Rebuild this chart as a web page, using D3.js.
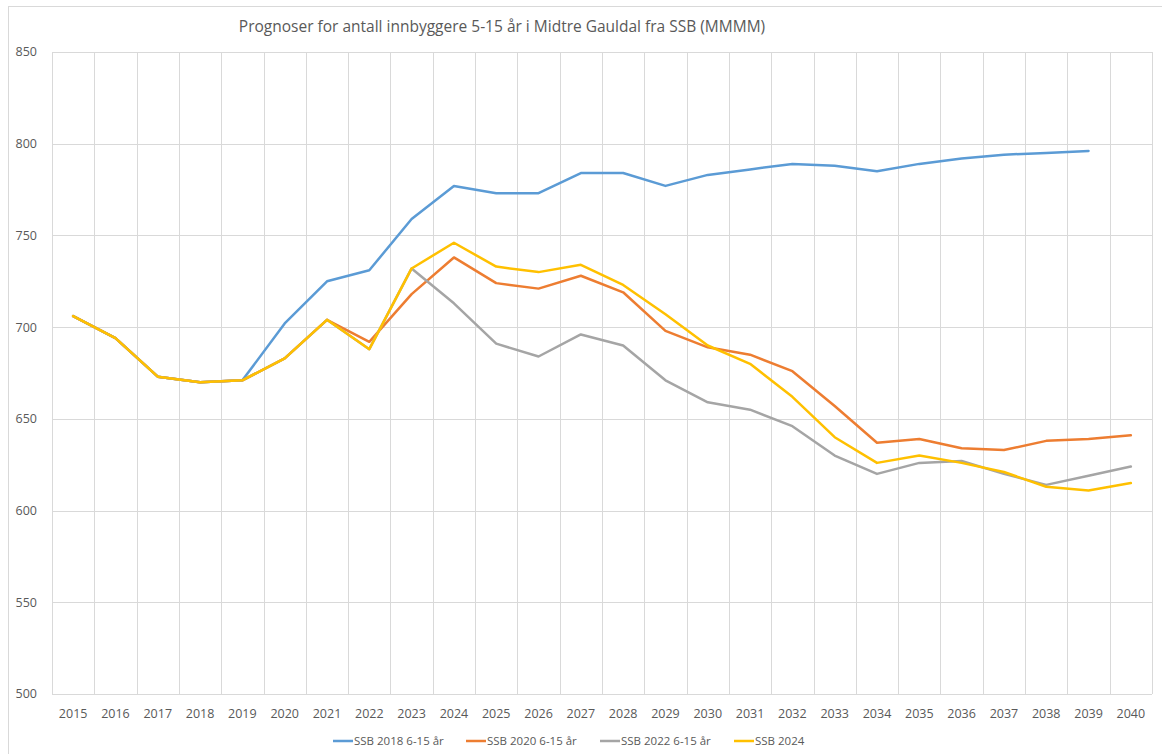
<!DOCTYPE html>
<html>
<head>
<meta charset="utf-8">
<script src="https://cdn.jsdelivr.net/npm/d3@7"></script>
<style>
  body { margin: 0; background: #fff; }
  text { font-family: "Open Sans", "Noto Sans", sans-serif; fill: #595959; }
</style>
</head>
<body>
<svg id="chart" width="1162" height="754"></svg>
<script>
// Årstall (kategorier)
const years = d3.range(2015, 2041).map(String);

// Serier (null = ingen verdi)
const ssb2018 = [706, 694, 673, 670, 671, 702, 725, 731, 759, 777, 773, 773, 784, 784, 777, 783, 786, 789, 788, 785, 789, 792, 794, 795, 796, null];
const ssb2020 = [706, 694, 673, 670, 671, 683, 704, 692, 718, 738, 724, 721, 728, 719, 698, 689, 685, 676, 657, 637, 639, 634, 633, 638, 639, 641];
const ssb2022 = [706, 694, 673, 670, 671, 683, 704, 688, 732, 713, 691, 684, 696, 690, 671, 659, 655, 646, 630, 620, 626, 627, 620, 614, 619, 624];
const ssb2024 = [706, 694, 673, 670, 671, 683, 704, 688, 732, 746, 733, 730, 734, 723, 707, 690, 680, 662, 640, 626, 630, 626, 621, 613, 611, 615];

const seriesNames = ["SSB 2018 6-15 år", "SSB 2020 6-15 år", "SSB 2022 6-15 år", "SSB 2024"];
const seriesColors = ["#5B9BD5", "#ED7D31", "#A5A5A5", "#FFC000"];
const yTicks = [500, 550, 600, 650, 700, 750, 800, 850];

const series = [ssb2018, ssb2020, ssb2022, ssb2024].map((vals, i) => ({
  name: seriesNames[i],
  color: seriesColors[i],
  values: vals.map((v, j) => ({ year: years[j], value: v }))
}));

const svg = d3.select("#chart");
const margin = {top: 52, right: 10, bottom: 60, left: 52};
const width = 1152 - margin.left;
const height = 694 - margin.top;

// Ytre ramme
svg.append("rect")
  .attr("x", 8.5).attr("y", 6.5)
  .attr("width", 1162).attr("height", 760)
  .attr("fill", "none").attr("stroke", "#D9D9D9");

const g = svg.append("g").attr("transform", `translate(${margin.left},${margin.top})`);

const x = d3.scaleBand().domain(years).range([0, width]);
const y = d3.scaleLinear().domain([500, 850]).range([height, 0]);

// Horisontale rutenett
g.selectAll("line.hgrid")
  .data(yTicks)
  .enter().append("line")
    .attr("x1", 0).attr("x2", width)
    .attr("y1", d => Math.round(y(d)) + 0.5)
    .attr("y2", d => Math.round(y(d)) + 0.5)
    .attr("stroke", "#D9D9D9").attr("stroke-width", 1);

// Vertikale rutenett (kategorigrenser)
const bounds = years.map(d => x(d)).concat([width]);
g.selectAll("line.vgrid")
  .data(bounds)
  .enter().append("line")
    .attr("x1", d => Math.round(d) + 0.5).attr("x2", d => Math.round(d) + 0.5)
    .attr("y1", 0).attr("y2", height)
    .attr("stroke", "#D9D9D9").attr("stroke-width", 1);

// Y-akse etiketter
g.selectAll("text.ytick")
  .data(yTicks)
  .enter().append("text")
    .attr("x", -15)
    .attr("y", d => y(d))
    .attr("dy", "0.35em")
    .attr("text-anchor", "end")
    .style("font-size", "12.5px")
    .text(d => d);

// X-akse etiketter
g.selectAll("text.xtick")
  .data(years)
  .enter().append("text")
    .attr("x", d => x(d) + x.bandwidth() / 2)
    .attr("y", height + 20)
    .attr("dy", "0.35em")
    .attr("text-anchor", "middle")
    .style("font-size", "12.5px")
    .text(d => d);

// Linjer
const line = d3.line()
  .defined(d => d.value != null)
  .x(d => x(d.year) + x.bandwidth() / 2)
  .y(d => y(d.value));

g.selectAll("path.serie")
  .data(series)
  .enter().append("path")
    .attr("fill", "none")
    .attr("stroke", d => d.color)
    .attr("stroke-width", 2.5)
    .attr("stroke-linejoin", "round")
    .attr("stroke-linecap", "round")
    .attr("d", d => line(d.values));

// Tegnforklaring
const legendX = [333, 466, 600, 734];
const legend = svg.selectAll("g.legend")
  .data(series)
  .enter().append("g")
    .attr("transform", (d, i) => `translate(${legendX[i]},741)`);
legend.append("line")
  .attr("x1", 0).attr("x2", 20)
  .attr("stroke", d => d.color).attr("stroke-width", 2.5);
legend.append("text")
  .attr("x", 21).attr("dy", "0.35em")
  .style("font-size", "11.5px")
  .text(d => d.name);

// Tittel
svg.append("text")
  .attr("x", 502)
  .attr("y", 27)
  .attr("dy", "0.35em")
  .attr("text-anchor", "middle")
  .style("font-size", "15.5px")
  .text("Prognoser for antall innbyggere 5-15 år i Midtre Gauldal fra SSB (MMMM)");
</script>
</body>
</html>
